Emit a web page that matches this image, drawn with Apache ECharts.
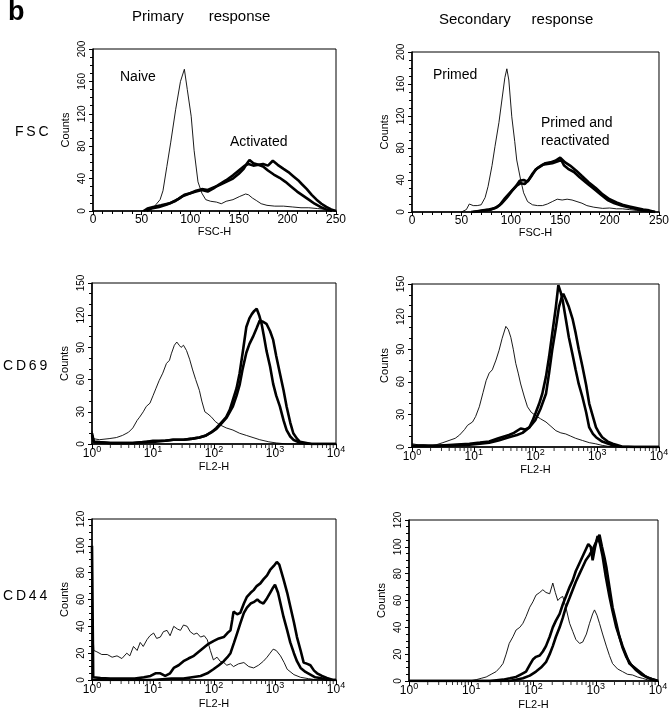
<!DOCTYPE html>
<html>
<head>
<meta charset="utf-8">
<script src="https://cdn.jsdelivr.net/npm/echarts@6/dist/echarts.min.js"></script>
<style>
  html, body { margin: 0; padding: 0; background: #fff; }
  #chart { width: 672px; height: 720px; }
</style>
</head>
<body>
<div id="chart"></div>
<script>
// FSC panels: [FSC-H, counts]
const fscPrimaryNaive = [[50,0],[55,1],[62,4],[69,14],[72,25],[76,55],[80,85],[85,125],[90,160],[94,175],[97,150],[101,117],[104,75],[108,36],[112,22],[116,14],[121,12],[127,11],[132,9],[137,12],[144,14],[151,18],[157,21],[160,20],[164,16],[168,13],[173,9],[179,7],[187,6],[196,6],[205,5],[214,4],[222,4],[231,3],[240,2],[248,1],[250,0]];
const fscPrimaryActA = [[52,0],[56,3],[62,5],[70,7],[80,10],[88,15],[94,20],[100,22],[106,25],[112,27],[118,26],[124,29],[130,32],[137,36],[144,40],[150,46],[155,52],[158,58],[161,63],[165,59],[170,57],[175,58],[180,56],[185,62],[190,57],[196,52],[201,48],[206,43],[211,38],[215,33],[220,27],[225,20],[230,14],[235,9],[240,5],[245,2],[250,0]];
const fscPrimaryActB = [[55,0],[60,3],[68,5],[76,8],[84,12],[92,18],[100,22],[106,24],[112,26],[118,24],[124,28],[130,33],[137,38],[144,44],[150,50],[156,56],[160,58],[165,56],[170,57],[175,55],[180,50],[186,45],[192,41],[198,36],[204,30],[210,24],[216,19],[222,14],[228,9],[234,5],[240,2],[246,0]];

const fscSecondaryPrimed = [[50,0],[55,3],[58,10],[62,8],[66,8],[70,9],[74,18],[77,32],[81,58],[84,82],[88,112],[91,140],[94,168],[96,179],[98,165],[101,119],[104,88],[106,65],[110,40],[113,24],[117,13],[122,9],[127,8],[132,8],[137,10],[142,13],[147,16],[152,15],[157,16],[162,15],[167,13],[172,11],[177,8],[184,6],[193,4.5],[200,5],[207,4],[213,4],[220,3],[227,2],[235,1],[243,0]];
const fscSecondaryReactA = [[60,0],[66,1],[72,2],[78,3],[84,5],[89,9],[94,17],[99,24],[105,32],[109,39],[113,40],[117,38],[121,45],[125,53],[130,57],[135,61],[140,62],[145,64],[150,68],[155,62],[160,58],[166,52],[172,45],[179,37],[186,30],[193,22],[200,16],[207,12],[213,9],[220,7],[227,5],[234,3],[240,2],[246,0]];
const fscSecondaryReactB = [[62,0],[68,1],[74,2],[80,3],[86,6],[91,11],[96,18],[101,26],[106,33],[110,36],[114,35],[118,40],[122,48],[127,55],[132,59],[137,60],[142,61],[147,63],[151,65],[154,58],[158,54],[164,50],[170,43],[177,36],[184,29],[191,22],[198,15],[205,11],[212,8],[219,6],[226,4],[233,2],[240,1],[246,0]];

// FL2 panels: [log10(FL2-H), counts]
const cd69PrimaryCtrl = [[0,12],[0.02,5],[0.12,4],[0.28,5],[0.4,6],[0.5,8],[0.6,11],[0.67,15],[0.74,22],[0.78,25],[0.84,30],[0.89,35],[0.95,38],[1.0,45],[1.05,52],[1.1,59],[1.16,66],[1.22,75],[1.27,78],[1.3,84],[1.35,92],[1.39,95],[1.43,92],[1.46,90],[1.5,92],[1.55,87],[1.6,79],[1.65,69],[1.7,60],[1.76,50],[1.8,40],[1.85,30],[1.9,28],[1.96,25],[2.02,21],[2.09,18],[2.2,15],[2.31,13],[2.42,10],[2.53,8],[2.64,6],[2.75,4],[2.9,2],[3.02,1],[3.2,0],[4,0]];
const cd69PrimaryActA = [[0,10],[0.03,2],[0.3,1],[0.67,1],[0.9,2],[1.0,3],[1.2,3],[1.33,4],[1.5,4],[1.65,5],[1.76,6],[1.87,8],[1.96,11],[2.04,15],[2.12,20],[2.2,25],[2.26,32],[2.31,41],[2.37,52],[2.42,66],[2.47,85],[2.53,109],[2.58,117],[2.62,121],[2.66,124],[2.7,126],[2.74,120],[2.78,112],[2.82,100],[2.86,87],[2.92,72],[2.97,56],[3.02,45],[3.08,35],[3.14,22],[3.19,13],[3.25,7],[3.3,4],[3.41,1],[3.6,0],[4,0]];
const cd69PrimaryActB = [[0,8],[0.03,2],[0.3,1],[0.67,1],[0.9,2],[1.0,2],[1.2,3],[1.33,4],[1.5,4],[1.65,5],[1.76,6],[1.87,8],[1.96,11],[2.04,14],[2.12,19],[2.2,24],[2.26,30],[2.31,35],[2.37,45],[2.42,55],[2.47,70],[2.53,85],[2.58,93],[2.64,100],[2.7,108],[2.75,115],[2.8,114],[2.86,112],[2.92,105],[2.97,97],[3.02,82],[3.08,66],[3.14,50],[3.19,35],[3.25,20],[3.3,10],[3.36,5],[3.41,2],[3.6,0],[4,0]];

const cd69SecondaryCtrl = [[0,3],[0.1,2],[0.2,2],[0.3,1],[0.39,2],[0.5,4],[0.6,6],[0.7,8],[0.77,11],[0.85,16],[0.9,20],[0.98,23],[1.03,28],[1.09,37],[1.15,50],[1.2,61],[1.25,68],[1.3,71],[1.36,80],[1.41,89],[1.46,100],[1.52,111],[1.56,108],[1.6,101],[1.64,90],[1.68,77],[1.72,68],[1.76,58],[1.82,46],[1.87,37],[1.93,32],[2.0,29],[2.08,26],[2.17,23],[2.25,19],[2.33,15],[2.41,13],[2.49,12],[2.57,10],[2.65,8],[2.76,6],[2.87,4],[2.97,3],[3.08,1.5],[3.25,0],[4,0]];
const cd69SecondaryActA = [[0,1],[0.4,1],[0.93,3],[1.1,4],[1.25,5],[1.4,8],[1.57,11],[1.65,13],[1.76,17],[1.83,16],[1.9,18],[1.95,24],[2.0,31],[2.06,40],[2.11,49],[2.17,65],[2.22,83],[2.27,104],[2.33,129],[2.37,149],[2.41,142],[2.44,135],[2.49,118],[2.54,101],[2.6,85],[2.65,71],[2.7,58],[2.76,46],[2.82,32],[2.87,18],[2.93,12],[2.98,9],[3.08,5],[3.18,3],[3.25,1.5],[3.4,0],[4,0]];
const cd69SecondaryActB = [[0,1],[0.4,1],[0.93,2],[1.1,3],[1.25,4],[1.4,6],[1.57,9],[1.7,11],[1.79,13],[1.9,18],[2.0,25],[2.08,35],[2.17,49],[2.22,68],[2.27,89],[2.33,110],[2.38,129],[2.42,137],[2.45,141],[2.49,136],[2.54,129],[2.6,118],[2.65,105],[2.7,90],[2.76,74],[2.82,57],[2.87,40],[2.93,28],[2.98,18],[3.03,13],[3.08,9],[3.17,5],[3.25,3],[3.4,0.5],[3.6,0],[4,0]];

const cd44PrimaryCtrl = [[0,50],[0.03,22],[0.08,21],[0.16,19],[0.25,19],[0.33,17],[0.41,18],[0.49,16],[0.57,20],[0.62,18],[0.68,25],[0.74,22],[0.79,28],[0.84,25],[0.9,30],[0.95,33],[1.01,35],[1.06,31],[1.12,32],[1.17,36],[1.23,37],[1.28,33],[1.34,40],[1.4,38],[1.45,37],[1.5,41],[1.56,40],[1.61,36],[1.67,34],[1.72,35],[1.78,32],[1.84,33],[1.89,30],[1.94,22],[1.99,15],[2.05,17],[2.1,14],[2.16,13],[2.21,11],[2.27,12],[2.32,10],[2.4,12],[2.49,13],[2.57,10],[2.65,9],[2.73,11],[2.81,14],[2.87,17],[2.92,20],[2.97,23],[3.02,22],[3.09,18],[3.15,13],[3.2,8],[3.31,4],[3.42,2],[3.55,1],[3.7,0],[4,0]];
const cd44PrimaryActA = [[0,100],[0.02,2],[0.14,1.5],[0.3,1],[0.5,1],[0.7,1],[0.85,2],[0.96,3],[1.04,5],[1.12,5],[1.2,3],[1.28,5],[1.34,9],[1.42,11],[1.5,14],[1.58,16],[1.67,18],[1.75,21],[1.83,24],[1.91,27],[1.99,29],[2.08,31],[2.16,32],[2.22,35],[2.27,37],[2.3,45],[2.32,51],[2.38,49],[2.43,50],[2.49,57],[2.54,62],[2.6,65],[2.65,67],[2.7,70],[2.76,72],[2.81,75],[2.87,78],[2.92,82],[2.98,85],[3.03,88],[3.07,86],[3.14,75],[3.2,65],[3.25,55],[3.31,43],[3.36,32],[3.42,22],[3.47,13],[3.53,12],[3.58,11],[3.64,7],[3.69,5],[3.77,3],[3.85,1.5],[3.95,0],[4,0]];
const cd44PrimaryActB = [[0,0],[0.5,0],[1.0,0],[1.3,1],[1.5,1],[1.64,2],[1.78,3],[1.89,5],[1.99,8],[2.08,11],[2.16,14],[2.22,17],[2.27,20],[2.33,28],[2.38,35],[2.43,42],[2.49,50],[2.54,54],[2.6,57],[2.65,58],[2.71,60],[2.76,58],[2.81,57],[2.87,61],[2.92,65],[2.97,69],[3.0,71],[3.05,65],[3.09,57],[3.14,47],[3.2,37],[3.25,28],[3.31,20],[3.36,14],[3.42,9],[3.5,6],[3.58,4],[3.66,2],[3.74,1.5],[3.85,0],[4,0]];

const cd44SecondaryCtrl = [[0,0],[0.5,0],[0.97,0],[1.08,1],[1.16,2],[1.24,3],[1.32,5],[1.4,7],[1.46,10],[1.51,13],[1.56,20],[1.61,28],[1.67,33],[1.72,38],[1.78,40],[1.83,43],[1.88,48],[1.94,55],[1.99,59],[2.04,64],[2.1,66],[2.15,68],[2.2,66],[2.26,65],[2.31,73],[2.35,66],[2.39,60],[2.43,62],[2.47,63],[2.52,55],[2.58,43],[2.63,37],[2.68,31],[2.74,28],[2.79,29],[2.85,35],[2.9,43],[2.95,50],[2.98,53],[3.02,49],[3.06,43],[3.11,35],[3.17,26],[3.22,19],[3.27,13],[3.35,9],[3.43,7],[3.51,5],[3.59,4.5],[3.67,3],[3.75,2],[3.86,0.5],[4,0]];
const cd44SecondaryActA = [[0,0],[0.8,0],[1.3,0],[1.51,1],[1.62,2],[1.72,3],[1.8,5],[1.88,7],[1.94,12],[1.99,16],[2.04,18],[2.1,19],[2.15,22],[2.2,26],[2.26,33],[2.31,40],[2.36,45],[2.42,50],[2.47,57],[2.52,63],[2.58,70],[2.63,75],[2.68,82],[2.74,88],[2.79,93],[2.84,98],[2.88,102],[2.92,100],[2.95,90],[2.99,100],[3.03,108],[3.07,102],[3.11,93],[3.16,78],[3.22,63],[3.27,52],[3.33,40],[3.38,33],[3.43,26],[3.49,19],[3.54,13],[3.62,10],[3.7,7],[3.78,4],[3.86,2],[3.95,0.5],[4,0]];
const cd44SecondaryActB = [[0,0],[0.8,0],[1.6,0],[1.72,1],[1.83,2],[1.94,4],[2.04,7],[2.12,10],[2.2,14],[2.26,20],[2.31,26],[2.36,33],[2.42,40],[2.47,47],[2.52,55],[2.58,62],[2.63,68],[2.68,74],[2.74,80],[2.79,85],[2.84,90],[2.9,94],[2.95,98],[3.0,103],[3.06,109],[3.1,100],[3.14,92],[3.17,85],[3.22,70],[3.27,55],[3.33,43],[3.38,33],[3.43,25],[3.49,18],[3.57,12],[3.65,8],[3.73,5],[3.81,3],[3.9,1.5],[3.97,0.5],[4,0]];

// y-axis ranges per row: [max, interval, minor splits]
const fscCounts = [200, 40, 4];
const cd69Counts = [150, 30, 3];
const cd44Counts = [120, 20, 4];

// log-axis minor tick positions inside each decade
const decadeSteps = [2, 3, 4, 5, 6, 7, 8, 9];
const decades = [1, 10, 100, 1000];

const FONT = '"Liberation Sans", Arial, sans-serif';

const panels = [
  { grid: { left: 93, top: 49, width: 243, height: 162 }, log: false, y: fscCounts, nameGap: 15, series: [fscPrimaryNaive, fscPrimaryActA, fscPrimaryActB] },
  { grid: { left: 412, top: 52, width: 247, height: 160 }, log: false, y: fscCounts, nameGap: 15, series: [fscSecondaryPrimed, fscSecondaryReactA, fscSecondaryReactB] },
  { grid: { left: 92, top: 283, width: 244, height: 161 }, log: true, y: cd69Counts, nameGap: 17, series: [cd69PrimaryCtrl, cd69PrimaryActA, cd69PrimaryActB] },
  { grid: { left: 412, top: 284, width: 247, height: 163 }, log: true, y: cd69Counts, nameGap: 17, series: [cd69SecondaryCtrl, cd69SecondaryActA, cd69SecondaryActB] },
  { grid: { left: 92, top: 519, width: 244, height: 161 }, log: true, y: cd44Counts, nameGap: 18, series: [cd44PrimaryCtrl, cd44PrimaryActA, cd44PrimaryActB] },
  { grid: { left: 409, top: 520, width: 249, height: 161 }, log: true, y: cd44Counts, nameGap: 18, series: [cd44SecondaryCtrl, cd44SecondaryActA, cd44SecondaryActB] },
];

function xAxisFor(p, i) {
  const base = {
    gridIndex: i,
    nameLocation: 'middle',
    nameGap: p.nameGap,
    nameTextStyle: { fontFamily: FONT, fontSize: 11, color: '#000' },
    axisLine: { lineStyle: { color: '#000', width: 1.5 } },
    axisTick: { length: 4, lineStyle: { color: '#000' } },
    splitLine: { show: false },
  };
  if (!p.log) {
    return Object.assign(base, {
      type: 'value', name: 'FSC-H', min: 0, max: 250, interval: 50,
      minorTick: { show: true, splitNumber: 5, length: 3, lineStyle: { color: '#000' } },
      axisLabel: { fontFamily: FONT, fontSize: 12, color: '#000', margin: 3 },
    });
  }
  return Object.assign(base, {
    type: 'log', name: 'FL2-H', logBase: 10, min: 1, max: 10000,
    axisTick: { length: 5, lineStyle: { color: '#000' } },
    minorTick: { show: false },
    axisLabel: {
      fontFamily: FONT, color: '#000', margin: 3,
      formatter: v => '{b|10}{s|' + Math.round(Math.log10(v)) + '}',
      rich: {
        b: { fontFamily: FONT, fontSize: 12, lineHeight: 13, verticalAlign: 'bottom', color: '#000' },
        s: { fontFamily: FONT, fontSize: 9, lineHeight: 9, padding: [0, 0, 6, 0], verticalAlign: 'bottom', color: '#000' },
      },
    },
  });
}

function yAxisFor(p, i) {
  return {
    type: 'value', gridIndex: i, min: 0, max: p.y[0], interval: p.y[1],
    name: 'Counts', nameLocation: 'middle', nameGap: 22,
    nameTextStyle: { fontFamily: FONT, fontSize: 11, color: '#000' },
    axisLine: { show: true, lineStyle: { color: '#000', width: 1.5 } },
    axisTick: { show: true, length: 4, lineStyle: { color: '#000' } },
    minorTick: { show: true, splitNumber: p.y[2], length: 3, lineStyle: { color: '#000' } },
    splitLine: { show: false },
    axisLabel: { fontFamily: FONT, fontSize: 10, color: '#000', rotate: 90, margin: 6 },
  };
}

function seriesFor(p, i) {
  const lines = p.series.map((data, k) => ({
    type: 'line',
    xAxisIndex: i, yAxisIndex: i,
    data: p.log ? data.map(d => [Math.pow(10, d[0]), d[1]]) : data,
    symbol: 'none',
    lineStyle: { color: '#000', width: k === 0 ? 0.9 : 2.6 },
    z: k === 0 ? 3 : 2,
  }));
  if (p.log) {
    // 2..9 minor ticks per decade, hung below the axis line
    const ticks = [];
    decades.forEach(d => decadeSteps.forEach(s => ticks.push([d * s, 0])));
    lines.push({
      type: 'scatter', xAxisIndex: i, yAxisIndex: i, data: ticks,
      symbol: 'rect', symbolSize: [1, 3], symbolOffset: [0, 2.5],
      itemStyle: { color: '#000' }, clip: false, silent: true, z: 4,
    });
  }
  return lines;
}

function label(text, x, y, size, extra) {
  return {
    type: 'text', x: x, y: y,
    style: Object.assign({ text: text, font: size + 'px ' + FONT, fill: '#000', textVerticalAlign: 'middle' }, extra || {}),
  };
}

const chart = echarts.init(document.getElementById('chart'));
chart.setOption({
  animation: false,
  backgroundColor: '#fff',
  grid: panels.map(p => Object.assign({ show: true, borderColor: '#000', borderWidth: 1, backgroundColor: 'transparent' }, p.grid)),
  xAxis: panels.map(xAxisFor),
  yAxis: panels.map(yAxisFor),
  series: panels.flatMap(seriesFor),
  graphic: [
    label('b', 8, 13, 27, { font: 'bold 27px ' + FONT }),
    label('Primary      response', 132, 17, 15),
    label('Secondary     response', 439, 20, 15),
    label('F\u2009S\u2009C', 15, 132, 14),
    label('C\u2009D\u20096\u20099', 3, 366, 14),
    label('C\u2009D\u20094\u20094', 3, 596, 14),
    label('Naive', 120, 77, 14),
    label('Activated', 230, 142, 14),
    label('Primed', 433, 75, 14),
    label('Primed and', 541, 123, 14),
    label('reactivated', 541, 141, 14),
  ],
});
</script>
</body>
</html>
